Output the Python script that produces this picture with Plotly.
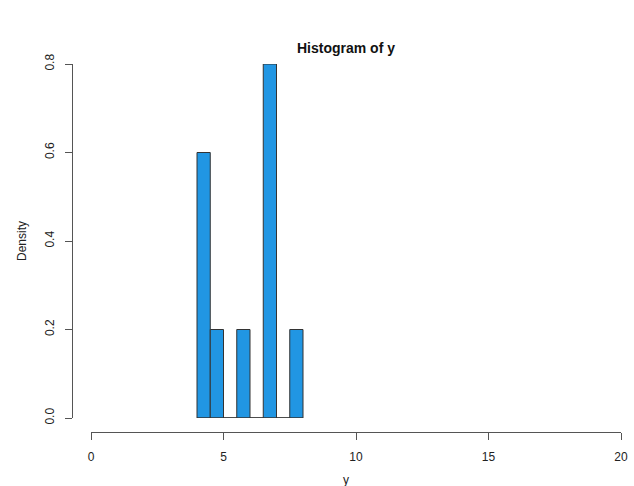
import plotly.graph_objects as go

breaks = [4.0, 4.5, 5.0, 5.5, 6.0, 6.5, 7.0, 7.5, 8.0]
density = [0.6, 0.2, 0.0, 0.2, 0.0, 0.8, 0.0, 0.2]
x_ticks = [0, 5, 10, 15, 20]
y_ticks = [0.0, 0.2, 0.4, 0.6, 0.8]

W, H = 634, 486
centers = [(a + b) / 2 for a, b in zip(breaks[:-1], breaks[1:])]
widths = [b - a for a, b in zip(breaks[:-1], breaks[1:])]

FONT = "Liberation Sans, Arial, sans-serif"
AX = "#555555"

fig = go.Figure()
fig.add_trace(go.Scatter(x=[breaks[0], breaks[-1]], y=[0, 0], mode="lines",
                         line=dict(color="#333333", width=1), hoverinfo="skip"))
fig.add_trace(go.Bar(x=centers, y=density, width=widths,
                     marker=dict(color="#2196E3", line=dict(color="#333333", width=1))))

fig.update_layout(
    width=W, height=H,
    margin=dict(l=0, r=0, t=0, b=0),
    paper_bgcolor="white", plot_bgcolor="white",
    showlegend=False,
    font=dict(family=FONT, size=12, color="#222222"),
    title=dict(text="<b>Histogram of y</b>", x=346 / W, y=1 - 48 / H,
               xanchor="center", yanchor="middle", xref="paper", yref="container",
               font=dict(family=FONT, size=14, color="#111111")),
    xaxis=dict(domain=[91 / W, 621 / W], range=[0, 20], anchor="free",
               position=1 - 432 / H, showline=True, linecolor=AX, linewidth=1,
               ticks="outside", ticklen=7, tickcolor=AX, tickvals=x_ticks,
               showgrid=False, zeroline=False, automargin=False,
               ticklabelstandoff=7),
    yaxis=dict(domain=[1 - 418 / H, 1 - 64 / H], range=[0, 0.8], anchor="free",
               position=72 / W, showline=True, linecolor=AX, linewidth=1,
               ticks="outside", ticklen=7, tickcolor=AX, tickvals=y_ticks,
               tickformat=".1f", tickangle=-90,
               showgrid=False, zeroline=False, automargin=False,
               ticklabelstandoff=6),
    annotations=[
        dict(text="Density", x=22 / W, y=1 - 241 / H, xref="paper", yref="paper",
             xanchor="center", yanchor="middle",
             showarrow=False, textangle=-90, font=dict(family=FONT, size=12, color="#222222")),
        dict(text="y", x=346 / W, y=1 - 480 / H, xref="paper", yref="paper",
             xanchor="center", yanchor="middle",
             showarrow=False, font=dict(family=FONT, size=12, color="#222222")),
    ],
)

fig.write_html("out.html", config={"displayModeBar": False},
               post_script="document.body.style.margin='0';document.body.style.overflow='hidden';")
